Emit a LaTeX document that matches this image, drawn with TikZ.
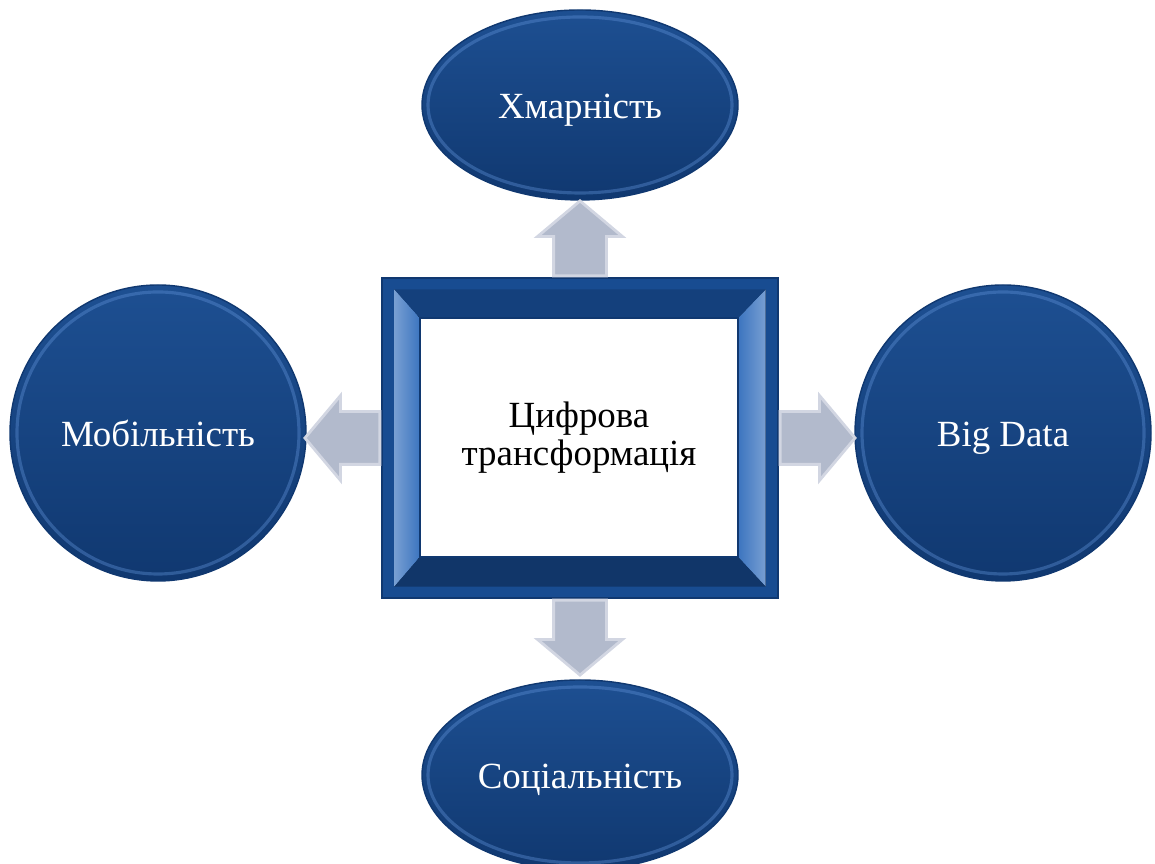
\documentclass[tikz,border=0pt]{standalone}
\usepackage{fontspec}
\setmainfont{Liberation Serif}
\usepackage{xcolor}
\usepackage{tikz}
\usetikzlibrary{positioning, calc, shapes.geometric, shapes.arrows}

\definecolor{ovalblue}{RGB}{22,72,138}
\definecolor{ovaldark}{RGB}{16,56,112}
\definecolor{rimblue}{RGB}{95,145,215}
\definecolor{frameblue}{RGB}{24,76,145}
\definecolor{bevellight}{RGB}{62,118,192}
\definecolor{beveldark}{RGB}{20,64,124}
\definecolor{arrowfill}{RGB}{178,186,204}
\definecolor{arrowline}{RGB}{210,214,226}

\begin{document}
\begin{tikzpicture} [font=\fontsize{10.5pt}{11pt}\selectfont,
        oval/.style = {ellipse, minimum width=3.16cm, minimum height=1.9cm,
          inner sep=0pt, top color=ovalblue!90!rimblue, bottom color=ovaldark,
          draw=ovaldark, text=white, text height=2ex, text depth=0.3ex},
        ball/.style = {circle, minimum size=2.96cm, inner sep=0pt,
          top color=ovalblue!90!rimblue, bottom color=ovaldark,
          draw=ovaldark, text=white, text height=2ex, text depth=0.3ex},
        rim/.style = {draw=rimblue, line width=0.9pt, opacity=0.4},
        blockarrow/.style = {single arrow, single arrow head extend=0.16cm,
          single arrow tip angle=100, minimum height=0.74cm, inner sep=0.25cm,
          anchor=tail, fill=arrowfill, draw=arrowline, line width=0.8pt}]

        \useasboundingbox (0,0) rectangle (11.55,8.64);

        % centre frame
        \node (frame) [rectangle, minimum width=3.96cm, minimum height=3.2cm,
          fill=frameblue, draw=ovaldark] at (5.80,4.26) {};
        \node (core) [rectangle, minimum width=3.18cm, minimum height=2.39cm,
          fill=white, draw=ovaldark, line width=0.6pt, align=center]
          at (5.79,4.265) {Цифрова\\трансформація};
        \coordinate (fNW) at ($(frame.north west)+(0.13,-0.12)$);
        \coordinate (fNE) at ($(frame.north east)+(-0.13,-0.12)$);
        \coordinate (fSW) at ($(frame.south west)+(0.13,0.12)$);
        \coordinate (fSE) at ($(frame.south east)+(-0.13,0.12)$);
        \fill [left color=bevellight!70!white, right color=bevellight]
          (fNW) -- (core.north west) -- (core.south west) -- (fSW) -- cycle;
        \fill [left color=bevellight, right color=bevellight!70!white]
          (fNE) -- (core.north east) -- (core.south east) -- (fSE) -- cycle;
        \fill [beveldark] (fNW) -- (fNE) -- (core.north east) -- (core.north west) -- cycle;
        \fill [beveldark!85!black] (fSW) -- (fSE) -- (core.south east) -- (core.south west) -- cycle;

        % outer topics
        \node (cloud) [oval] at (5.80,7.59) {Хмарність};
        \node (social) [oval] at (5.80,0.89) {Соціальність};
        \node (mobile) [ball] at (1.58,4.31) {Мобільність};
        \node (bigdata) [ball] at (10.03,4.31) {Big Data};

        \draw [rim] (cloud.center) ellipse [x radius=1.52cm, y radius=0.88cm];
        \draw [rim] (social.center) ellipse [x radius=1.52cm, y radius=0.88cm];
        \draw [rim] (mobile.center) circle [radius=1.41cm];
        \draw [rim] (bigdata.center) circle [radius=1.41cm];

        % block arrows
        \node (upArrow) [blockarrow, shape border rotate=90] at (frame.north) {};
        \node (downArrow) [blockarrow, shape border rotate=270] at (frame.south) {};
        \node (leftArrow) [blockarrow, shape border rotate=180] at (frame.west) {};
        \node (rightArrow) [blockarrow] at (frame.east) {};

    \end{tikzpicture}
\end{document}
